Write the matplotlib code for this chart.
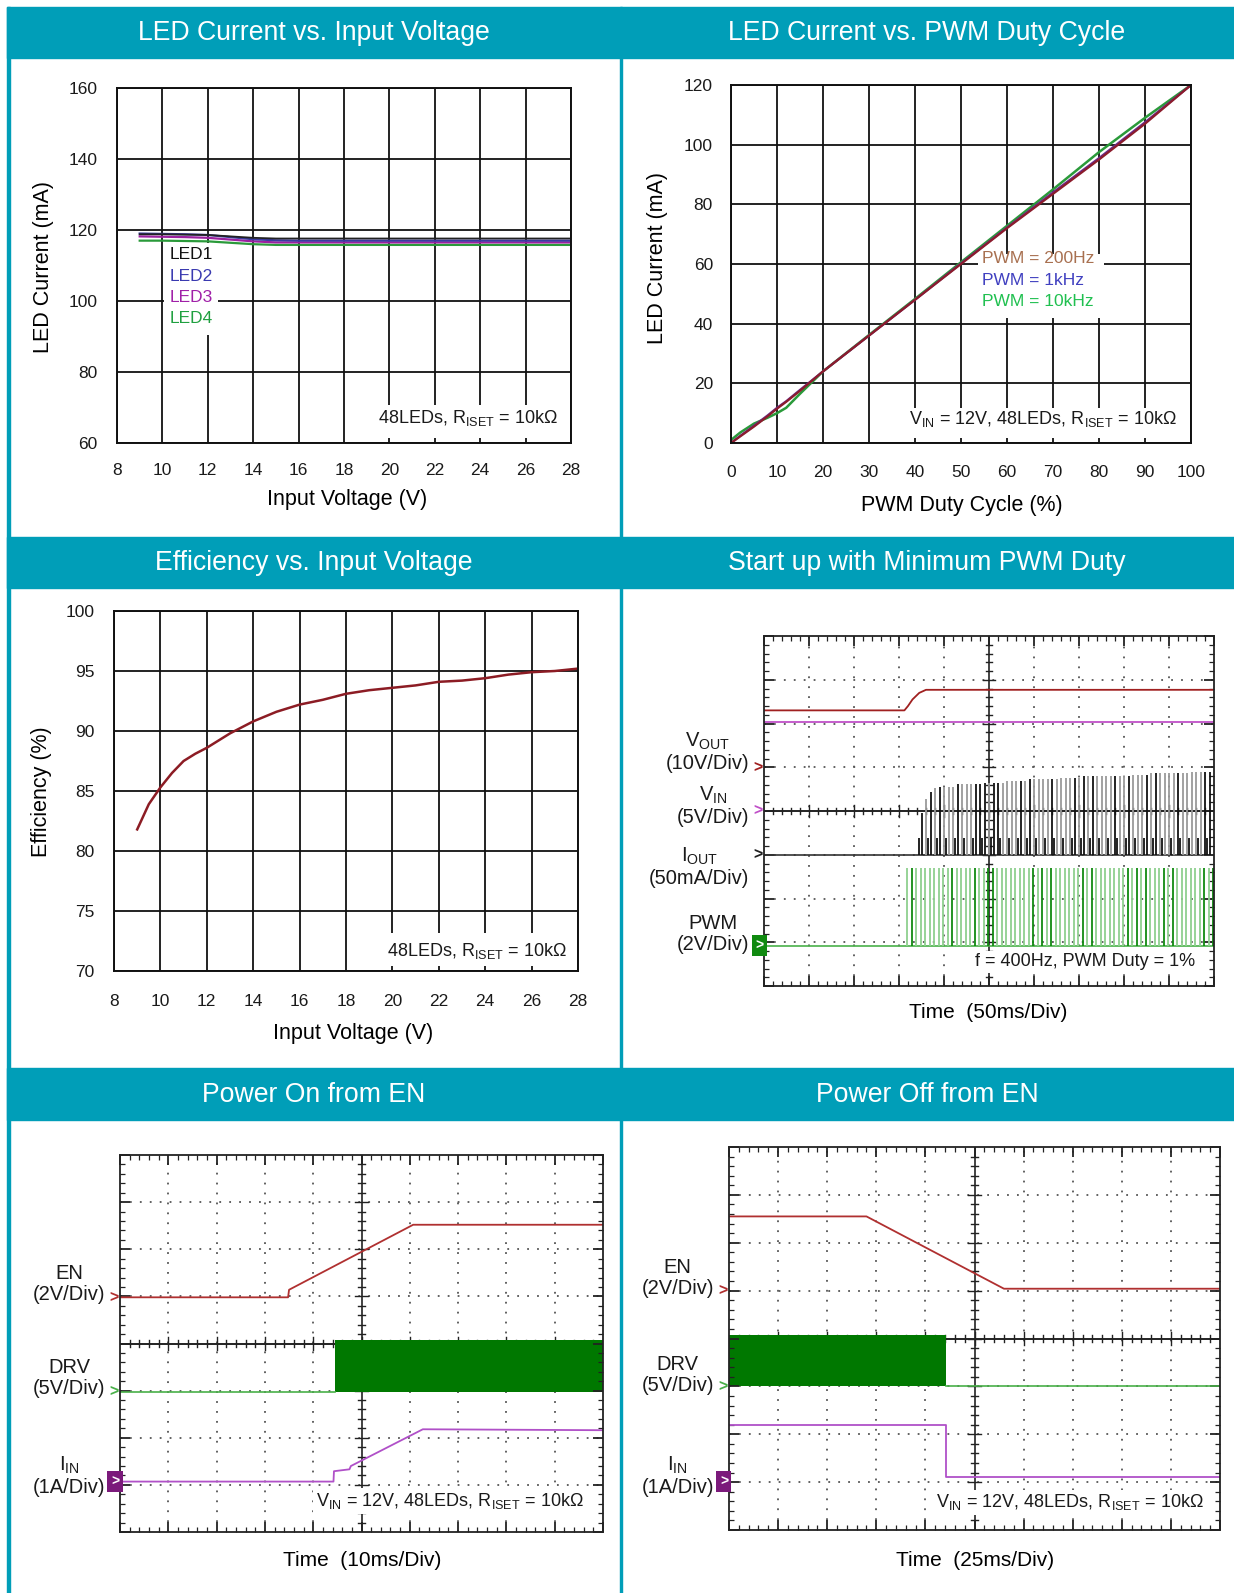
import numpy as np
import matplotlib.pyplot as plt
from matplotlib import transforms
from matplotlib.patches import Rectangle

plt.rcParams['font.family'] = ['Liberation Sans', 'DejaVu Sans']
plt.rcParams['mathtext.fontset'] = 'custom'
plt.rcParams['mathtext.rm'] = 'Liberation Sans'
plt.rcParams['mathtext.it'] = 'Liberation Sans:italic'
plt.rcParams['mathtext.bf'] = 'Liberation Sans:bold'

TEAL = '#009eb8'

# ---- LED current vs input voltage ----
vin = [9, 10, 11, 12, 13, 14, 15, 16, 18, 20, 22, 24, 26, 28]
led1 = [118.8, 118.8, 118.7, 118.6, 118.2, 117.8, 117.6, 117.6, 117.6, 117.6, 117.6, 117.6, 117.6, 117.6]
led2 = [119.0, 118.9, 118.8, 118.6, 118.0, 117.4, 117.1, 117.0, 117.0, 117.0, 117.0, 117.0, 117.0, 117.0]
led3 = [118.2, 118.1, 118.0, 117.8, 117.3, 116.8, 116.5, 116.5, 116.5, 116.5, 116.5, 116.5, 116.5, 116.5]
led4 = [117.0, 117.0, 116.9, 116.8, 116.4, 116.0, 115.8, 115.8, 115.8, 115.8, 115.8, 115.8, 115.8, 115.8]

# ---- LED current vs PWM duty ----
duty = [0, 2, 5, 8, 10, 12, 15, 20, 30, 40, 50, 60, 70, 80, 90, 100]
pwm_200hz = [0, 2.2, 5.5, 9.0, 11.5, 13.8, 17.5, 24.0, 36.0, 48.0, 60.0, 72.0, 83.5, 95.0, 107.0, 120.0]
pwm_1khz = [0, 2.4, 5.8, 9.3, 11.8, 14.0, 17.8, 24.0, 36.0, 48.0, 60.2, 72.2, 84.0, 95.5, 107.5, 120.0]
pwm_10khz = [1.0, 3.5, 6.5, 8.5, 10.0, 11.8, 16.5, 24.0, 36.2, 48.3, 60.6, 72.8, 85.0, 97.5, 109.0, 120.0]

# ---- Efficiency vs input voltage ----
eff_v = [9, 9.5, 10, 10.5, 11, 11.5, 12, 13, 14, 15, 16, 17, 18, 19, 20, 21, 22, 23, 24, 25, 26, 27, 28]
eff = [81.8, 83.9, 85.3, 86.5, 87.5, 88.1, 88.6, 89.8, 90.8, 91.6, 92.2, 92.6, 93.1, 93.4, 93.6,
       93.8, 94.1, 94.2, 94.4, 94.7, 94.9, 95.0, 95.2]

# ---- Start up scope (divisions) ----
vout_t = [0, 3.12, 3.2, 3.3, 3.45, 3.6, 10]
vout_v = [6.3, 6.3, 6.4, 6.55, 6.7, 6.77, 6.77]
vin_t = [0, 10]
vin_v = [6.03, 6.03]
iout_base = 3.0
iout_t = [3.5, 3.6, 3.7, 3.8, 3.9, 4.0, 4.1, 4.2, 4.3, 4.4, 4.5, 4.6, 4.7, 4.8, 4.9, 5.0, 5.1,
          5.2, 5.3, 5.4, 5.5, 5.6, 5.7, 5.8, 5.9, 6.0, 6.1, 6.2, 6.3, 6.4, 6.5, 6.6, 6.7, 6.8,
          6.9, 7.0, 7.1, 7.2, 7.3, 7.4, 7.5, 7.6, 7.7, 7.8, 7.9, 8.0, 8.1, 8.2, 8.3, 8.4, 8.5,
          8.6, 8.7, 8.8, 8.9, 9.0, 9.1, 9.2, 9.3, 9.4, 9.5, 9.6, 9.7, 9.8, 9.9]
iout_pk = [3.96, 4.28, 4.43, 4.52, 4.56, 4.56, 4.56, 4.56, 4.62, 4.62, 4.62, 4.62, 4.62, 4.62,
           4.63, 4.63, 4.63, 4.63, 4.63, 4.68, 4.68, 4.68, 4.68, 4.68, 4.73, 4.73, 4.73, 4.73,
           4.73, 4.73, 4.73, 4.76, 4.76, 4.76, 4.76, 4.76, 4.79, 4.79, 4.79, 4.79, 4.79, 4.79,
           4.79, 4.79, 4.79, 4.79, 4.79, 4.82, 4.82, 4.82, 4.82, 4.87, 4.87, 4.87, 4.87, 4.87,
           4.87, 4.87, 4.87, 4.87, 4.9, 4.9, 4.9, 4.9, 4.9]
iout_short_t = [3.45, 3.65, 3.85, 4.05, 4.25, 4.45, 4.65, 4.85, 5.05, 5.25, 5.45, 5.65, 5.85,
                6.05, 6.25, 6.45, 6.65, 6.85, 7.05, 7.25, 7.45, 7.65, 7.85, 8.05, 8.25, 8.45,
                8.65, 8.85, 9.05, 9.25, 9.45, 9.65, 9.85]
iout_short_pk = 3.38
pwm_base = 0.92
pwm_top = 2.7
pwm_t = [3.18, 3.28, 3.38, 3.48, 3.58, 3.68, 3.78, 3.88, 3.98, 4.08, 4.18, 4.28, 4.38, 4.48,
         4.58, 4.68, 4.78, 4.88, 4.98, 5.08, 5.18, 5.28, 5.38, 5.48, 5.58, 5.68, 5.78, 5.88,
         5.98, 6.08, 6.18, 6.28, 6.38, 6.48, 6.58, 6.68, 6.78, 6.88, 6.98, 7.08, 7.18, 7.28,
         7.38, 7.48, 7.58, 7.68, 7.78, 7.88, 7.98, 8.08, 8.18, 8.28, 8.38, 8.48, 8.58, 8.68,
         8.78, 8.88, 8.98, 9.08, 9.18, 9.28, 9.38, 9.48, 9.58, 9.68, 9.78, 9.88, 9.98]

# ---- Power on from EN ----
en_on_t = [0, 3.48, 3.5, 6.07, 10]
en_on_v = [4.98, 4.98, 5.14, 6.52, 6.52]
drv_on_t = [4.46, 10]
drv_low, drv_high = 2.98, 4.08
iin_on_t = [0, 4.42, 4.43, 4.75, 4.78, 6.27, 10]
iin_on_v = [1.07, 1.07, 1.29, 1.33, 1.40, 2.18, 2.16]

# ---- Power off from EN ----
en_off_t = [0, 2.8, 5.6, 10]
en_off_v = [6.55, 6.55, 5.04, 5.04]
drv_off_t = [0, 4.41]
iin_off_t = [0, 4.41, 4.41, 10]
iin_off_v = [2.2, 2.2, 1.11, 1.11]

W, H = 1234, 1593
fig = plt.figure(figsize=(W / 100, H / 100), dpi=100)


def box(l, t, r, b):
    return [l / W, 1 - b / H, (r - l) / W, (b - t) / H]


def ftext(x, y, s, **kw):
    fig.text(x / W, 1 - y / H, s, **kw)


# frame, headers
fig.patches.append(Rectangle((7 / W, 0), 2.5 / W, 1 - 7 / H, transform=fig.transFigure,
                             color=TEAL, zorder=0))
fig.patches.append(Rectangle((620 / W, 0), 2.2 / W, 1 - 7 / H, transform=fig.transFigure,
                             color=TEAL, zorder=0))
headers = [("LED Current vs. Input Voltage", "LED Current vs. PWM Duty Cycle", 7, 58),
           ("Efficiency vs. Input Voltage", "Start up with Minimum PWM Duty", 537, 588),
           ("Power On from EN", "Power Off from EN", 1068, 1120)]
for left, right, top, bot in headers:
    fig.patches.append(Rectangle((7 / W, 1 - bot / H), 1 - 7 / W, (bot - top) / H,
                                 transform=fig.transFigure, color=TEAL, zorder=0))
    ftext(314, (top + bot) / 2 + 1, left, color='white', fontsize=19.2, ha='center', va='center')
    ftext(927, (top + bot) / 2 + 1, right, color='white', fontsize=19.2, ha='center', va='center')


def panel(rect, xlim, ylim, xt, yt, xpad, ypad):
    ax = fig.add_axes(box(*rect))
    ax.set_xlim(xlim)
    ax.set_ylim(ylim)
    ax.set_xticks(xt)
    ax.set_yticks(yt)
    ax.grid(True, color='#111111', lw=1.3)
    ax.tick_params(length=0, labelsize=12.5, labelcolor='#1a1a1a')
    ax.tick_params(axis='x', pad=xpad)
    ax.tick_params(axis='y', pad=ypad)
    for s in ax.spines.values():
        s.set_linewidth(1.4)
        s.set_color('#111111')
    return ax


def white(ax, x0, x1, y0, y1):
    ax.add_patch(Rectangle((x0, y0), x1 - x0, y1 - y0, color='white', zorder=1.8, lw=0))


# ---- panel 1 ----
ax1 = panel((117, 88, 571, 443), (8, 28), (60, 160), range(8, 29, 2), range(60, 161, 20), 14.5, 14)
ax1.plot(vin, led4, color='#2a9a3a', lw=1.6)
ax1.plot(vin, led3, color='#9b20a0', lw=1.6)
ax1.plot(vin, led2, color='#3a3aa0', lw=1.6)
ax1.plot(vin, led1, color='#222222', lw=1.3)
white(ax1, 10.08, 12.45, 90.5, 116.3)
for lab, y, c in [("LED1", 113, '#111111'), ("LED2", 107, '#3a3ab0'),
                  ("LED3", 101, '#a020a8'), ("LED4", 95, '#20a040')]:
    ax1.text(10.3, y, lab, color=c, fontsize=12.5, va='center', zorder=3)
white(ax1, 18.1, 27.95, 61.4, 70.7)
ax1.text(27.4, 67, r'48LEDs, R$_\mathrm{ISET}$ = 10kΩ', ha='right', va='center', fontsize=13,
         color='#1a1a1a', zorder=3)
ftext(347, 500, "Input Voltage (V)", fontsize=15.5, ha='center', va='center')
ftext(44, 267, "LED Current (mA)", fontsize=15.5, ha='center', va='center', rotation=90)

# ---- panel 2 ----
ax2 = panel((731, 85, 1191, 443), (0, 100), (0, 120), range(0, 101, 10), range(0, 121, 20), 15.5, 13)
ax2.plot(duty, pwm_10khz, color='#2a9a3a', lw=1.8)
ax2.plot(duty, pwm_1khz, color='#6a2a8a', lw=1.6)
ax2.plot(duty, pwm_200hz, color='#8c1c2c', lw=1.6)
white(ax2, 53.6, 81.0, 42.0, 63.2)
for lab, y, c in [("PWM = 200Hz", 61.7, '#a87050'), ("PWM = 1kHz", 54.6, '#4040c0'),
                  ("PWM = 10kHz", 47.4, '#20c050')]:
    ax2.text(54.5, y, lab, color=c, fontsize=12.5, va='center', zorder=3)
white(ax2, 31.0, 99.8, 1.7, 11.7)
ax2.text(97, 7.9, r'V$_\mathrm{IN}$ = 12V, 48LEDs, R$_\mathrm{ISET}$ = 10kΩ', ha='right',
         va='center', fontsize=13, color='#1a1a1a', zorder=3)
ftext(962, 505, "PWM Duty Cycle (%)", fontsize=15.5, ha='center', va='center')
ftext(658, 258, "LED Current (mA)", fontsize=15.5, ha='center', va='center', rotation=90)

# ---- panel 3 ----
ax3 = panel((114, 611, 578, 971), (8, 28), (70, 100), range(8, 29, 2), range(70, 101, 5), 16.5, 14)
ax3.plot(eff_v, eff, color='#8c1c24', lw=1.8)
white(ax3, 18.2, 27.95, 70.4, 73.2)
ax3.text(27.5, 71.7, r'48LEDs, R$_\mathrm{ISET}$ = 10kΩ', ha='right', va='center', fontsize=13,
         color='#1a1a1a', zorder=3)
ftext(353, 1034, "Input Voltage (V)", fontsize=15.5, ha='center', va='center')
ftext(41, 792, "Efficiency (%)", fontsize=15.5, ha='center', va='center', rotation=90)


# ---- scope panels ----
def scope(rect):
    ax = fig.add_axes(box(*rect))
    ax.set_xlim(0, 10)
    ax.set_ylim(0, 8)
    ax.set_xticks(range(11))
    ax.set_yticks(range(9))
    ax.set_xticks(np.arange(0, 10.01, 0.2), minor=True)
    ax.set_yticks(np.arange(0, 8.01, 0.2), minor=True)
    ax.tick_params(which='both', direction='in', top=True, right=True, labelleft=False,
                   labelbottom=False, color='#222222')
    ax.tick_params(which='major', length=7, width=1.3)
    ax.tick_params(which='minor', length=3.5, width=0.9)
    for s in ax.spines.values():
        s.set_linewidth(1.3)
        s.set_color('#222222')
    for v in range(1, 10):
        if v != 5:
            ax.axvline(v, color='#555555', lw=1.3, ls=(0, (1, 4.5)), zorder=0.5)
    for h in range(1, 8):
        if h != 4:
            ax.axhline(h, color='#555555', lw=1.3, ls=(0, (1, 4.5)), zorder=0.5)
    ax.axvline(5, color='#222222', lw=1.2, zorder=0.6)
    ax.axhline(4, color='#222222', lw=1.4, zorder=0.6)
    for t in np.arange(0.2, 10, 0.2):
        L = 0.13 if abs(t - round(t)) < 1e-6 else 0.07
        ax.plot([t, t], [4 - L, 4 + L], color='#222222', lw=1.0, zorder=0.6)
    for t in np.arange(0.2, 8, 0.2):
        L = 0.13 if abs(t - round(t)) < 1e-6 else 0.07
        ax.plot([5 - L, 5 + L], [t, t], color='#222222', lw=1.0, zorder=0.6)
    return ax


def chan(ax, text, y, marker_y, color, boxed=False, xoff=-0.032):
    tr = transforms.blended_transform_factory(ax.transAxes, ax.transData)
    ax.text(xoff, y, text, transform=tr, ha='right', va='center', multialignment='center',
            fontsize=14.5, color='#1a1a1a', linespacing=1.15)
    if boxed:
        ax.text(-0.002, marker_y, '>', transform=tr, ha='right', va='center', color='white',
                fontsize=10, fontweight='bold',
                bbox=dict(boxstyle='square,pad=0.25', fc=color, ec='none'))
    else:
        ax.text(-0.003, marker_y, '>', transform=tr, ha='right', va='center', color=color,
                fontsize=11.5, fontweight='bold')


def note(ax, x, y, s):
    ax.text(x, y, s, ha='right', va='center', fontsize=13, color='#1a1a1a', zorder=4,
            bbox=dict(boxstyle='square,pad=0.15', fc='white', ec='none'))


# start up
ax4 = scope((764, 636, 1214, 986))
ax4.plot(vout_t, vout_v, color='#a02020', lw=1.3)
ax4.plot(vin_t, vin_v, color='#c050c8', lw=1.3)
ax4.axhline(iout_base, color='#333333', lw=1.2)
iout_black = [0, 2, 4, 8, 12, 13, 14, 16, 17, 22, 24, 29, 34, 36, 38, 43, 46, 50, 52, 57, 63, 64]
iout_cols = ['#111111' if i in iout_black else '#9a9a9a' for i in range(len(iout_t))]
ax4.vlines(iout_t, iout_base, iout_pk, colors=iout_cols, lw=1.3)
ax4.vlines(iout_short_t, iout_base, iout_short_pk, colors='#111111', lw=1.3)
ax4.axhline(pwm_base, color='#49b049', lw=1.2)
pwm_dark = [1, 10, 15, 18, 19, 28, 30, 32, 39, 41, 49, 51, 53, 57, 59, 66, 68]
pwm_cols = ['#108a10' if i in pwm_dark else '#8fd08f' for i in range(len(pwm_t))]
ax4.vlines(pwm_t, pwm_base, pwm_top, colors=pwm_cols, lw=1.3)
chan(ax4, 'V$_\\mathrm{OUT}$\n(10V/Div)', 5.35, 5.0, '#a02020')
chan(ax4, 'V$_\\mathrm{IN}$\n(5V/Div)', 4.12, 4.0, '#c050c8')
chan(ax4, 'I$_\\mathrm{OUT}$\n(50mA/Div)', 2.72, 3.0, '#222222')
chan(ax4, 'PWM\n(2V/Div)', 1.19, 0.92, '#108a10', boxed=True)
note(ax4, 9.58, 0.55, 'f = 400Hz, PWM Duty = 1%')
ftext(988, 1013, "Time  (50ms/Div)", fontsize=15, ha='center', va='center')

# power on
ax5 = scope((120, 1155, 603, 1532))
ax5.plot(en_on_t, en_on_v, color='#b03030', lw=1.3)
ax5.plot([0, drv_on_t[0]], [drv_low, drv_low], color='#49b049', lw=1.2)
ax5.fill_between(drv_on_t, drv_low, drv_high, color='#007800', lw=0)
ax5.plot(iin_on_t, iin_on_v, color='#b050c8', lw=1.3)
chan(ax5, 'EN\n(2V/Div)', 5.26, 4.98, '#b03030', xoff=-0.03)
chan(ax5, 'DRV\n(5V/Div)', 3.27, 2.98, '#49b049', xoff=-0.03)
chan(ax5, 'I$_\\mathrm{IN}$\n(1A/Div)', 1.19, 1.07, '#7b1a7b', boxed=True, xoff=-0.03)
note(ax5, 9.6, 0.66, r'V$_\mathrm{IN}$ = 12V, 48LEDs, R$_\mathrm{ISET}$ = 10kΩ')
ftext(362, 1560, "Time  (10ms/Div)", fontsize=15, ha='center', va='center')

# power off
ax6 = scope((729, 1147, 1220, 1530))
ax6.plot(en_off_t, en_off_v, color='#b03030', lw=1.3)
ax6.fill_between(drv_off_t, drv_low + 0.02, drv_high, color='#007800', lw=0)
ax6.plot([drv_off_t[1], 10], [drv_low + 0.02, drv_low + 0.02], color='#49b049', lw=1.2)
ax6.plot(iin_off_t, iin_off_v, color='#b050c8', lw=1.3)
chan(ax6, 'EN\n(2V/Div)', 5.27, 5.0, '#b03030', xoff=-0.031)
chan(ax6, 'DRV\n(5V/Div)', 3.24, 3.0, '#49b049', xoff=-0.031)
chan(ax6, 'I$_\\mathrm{IN}$\n(1A/Div)', 1.13, 1.01, '#7b1a7b', boxed=True, xoff=-0.031)
note(ax6, 9.66, 0.58, r'V$_\mathrm{IN}$ = 12V, 48LEDs, R$_\mathrm{ISET}$ = 10kΩ')
ftext(975, 1560, "Time  (25ms/Div)", fontsize=15, ha='center', va='center')

fig.savefig('out.png', dpi=100)
